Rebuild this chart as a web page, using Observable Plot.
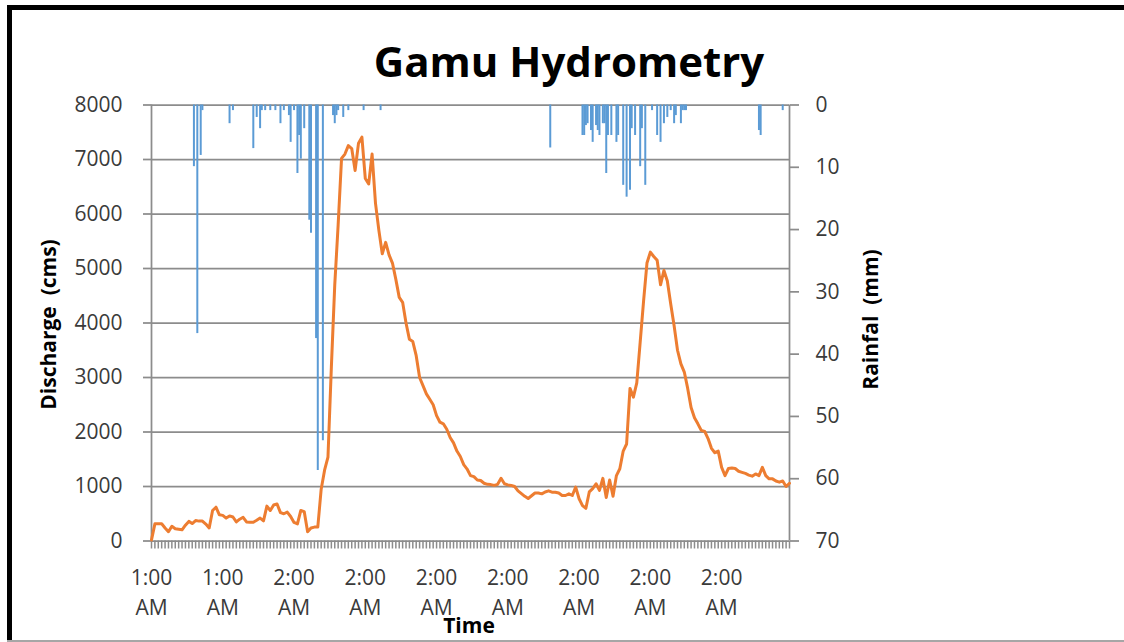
<!DOCTYPE html>
<html>
<head>
<meta charset="utf-8">
<script src="https://cdn.jsdelivr.net/npm/d3@7"></script>
<script src="https://cdn.jsdelivr.net/npm/@observablehq/plot@0.6"></script>
<style>
  body { margin: 0; background: #fff; }
  #wrap { position: relative; width: 1124px; height: 642px; overflow: hidden; font-family: "Open Sans", sans-serif; background: #fff; }
  #wrap svg { position: absolute; left: 0; top: 0; }
  .bar { position: absolute; }
  .frameTop { left: 7px; top: 5px; width: 1117px; height: 5px; background: #000; }
  .frameLeft { left: 7px; top: 5px; width: 5px; height: 637px; background: #000; }
  .frameBottom { left: 7px; top: 640px; width: 1117px; height: 2px; background: #a6a6a6; }
  .txt { position: absolute; white-space: pre; color: #000; font-weight: bold; line-height: 1; }
  .title { left: 0; width: 1138px; top: 40px; text-align: center; font-size: 42px; }
  .ylab { font-size: 21px; text-align: center; transform: rotate(-90deg); transform-origin: 50% 50%; }
  .xlab { font-size: 21px; text-align: center; }
</style>
</head>
<body>
<div id="wrap">
  <div class="bar frameTop"></div>
  <div class="bar frameLeft"></div>
  <div class="bar frameBottom"></div>
  <div class="txt title">Gamu Hydrometry</div>
  <div class="txt ylab" style="left:-52px; top:314px; width:200px;">Discharge  (cms)</div>
  <div class="txt ylab" style="left:770px; top:309px; width:200px;">Rainfal  (mm)</div>
  <div class="txt xlab" style="left:419px; top:615px; width:100px;">Time</div>
</div>
<script>
// ---- data ----
const discharge = [
  20, 315, 315, 315, 240, 170, 270, 225, 215, 205,
  290, 360, 320, 375, 365, 365, 310, 240, 560, 620,
  480, 470, 420, 460, 440, 350, 400, 435, 350, 345,
  345, 380, 420, 370, 640, 560, 660, 680, 520, 500,
  530, 450, 340, 315, 560, 540, 170, 240, 255, 255,
  950, 1300, 1540, 3190, 4700, 5800, 7020, 7100, 7255, 7200,
  6800, 7300, 7410, 6650, 6550, 7100, 6200, 5700, 5270, 5480,
  5250, 5100, 4800, 4470, 4380, 4000, 3700, 3660, 3400, 3000,
  2850, 2700, 2600, 2500, 2300, 2180, 2150, 2050, 1900, 1800,
  1650, 1550, 1400, 1320, 1200, 1180, 1120, 1110, 1060, 1040,
  1035, 1020, 1040, 1150, 1050, 1030, 1020, 1000, 920, 870,
  820, 780, 830, 880, 880, 865, 900, 920, 895, 895,
  880, 835, 835, 865, 835, 990, 775, 650, 600, 900,
  960, 1050, 930, 1150, 800, 1120, 820, 1200, 1325, 1650,
  1780, 2800, 2640, 2900, 3650, 4400, 5100, 5300, 5220, 5150,
  4700, 4965, 4770, 4350, 3950, 3500, 3250, 3100, 2800, 2450,
  2260, 2150, 2030, 2010, 1880, 1700, 1620, 1650, 1350, 1200,
  1330, 1340, 1330, 1280, 1260, 1240, 1210, 1190, 1230, 1200,
  1350, 1200, 1140, 1140, 1100, 1080, 1100, 1000, 1060
];
// rainfall: time step (in discharge steps) and depth in mm
const rainStep = [12.5, 13.5, 14.5, 15, 23, 24, 30, 31, 32, 32.5, 33.5, 35, 36.5, 38, 39,
  40.5, 41, 42, 43, 43.5, 44, 45, 46.5, 47, 48.5, 49, 50.5, 53.5, 54, 54.5, 55, 56.5, 58,
  62.5, 67.5, 117.5, 127, 127.5, 128, 128.5, 129.5, 130, 131, 131.5, 132, 133, 133.5,
  134, 134.5, 135.5, 137, 137.5, 139, 140, 141, 141.5, 142.5, 144, 144.5, 145.5, 147.5,
  149, 150, 151, 152, 153, 154, 154.5, 156, 156.5, 157, 157.5, 179, 179.5, 186];
const rainMm = [9.9, 36.7, 8.1, 0.9, 3.0, 0.9, 7.0, 2.0, 3.8, 0.9, 0.9, 0.9, 0.9, 3.0, 0.9,
  1.7, 6.0, 0.9, 11.0, 4.9, 8.7, 3.8, 18.5, 20.6, 37.5, 58.7, 53.9, 1.7, 3.0, 1.7, 0.9, 2.0, 0.9,
  0.9, 0.9, 6.9, 4.9, 4.9, 3.3, 3.0, 4.1, 6.0, 3.3, 4.1, 4.9, 3.0, 3.0,
  11.0, 4.9, 4.9, 6.0, 4.9, 12.9, 14.8, 13.7, 3.8, 4.9, 9.9, 3.8, 12.9, 0.9,
  4.9, 6.0, 3.0, 2.0, 0.9, 3.0, 1.7, 3.0, 0.9, 0.9, 0.9, 4.1, 4.9, 0.9];
const timeLabels = ["1:00\nAM", "1:00\nAM", "2:00\nAM", "2:00\nAM", "2:00\nAM", "2:00\nAM", "2:00\nAM", "2:00\nAM", "2:00\nAM"];
const labelSteps = [0, 21, 42, 63, 84, 105, 126, 147, 168];
const dischargeTicks = [0, 1000, 2000, 3000, 4000, 5000, 6000, 7000, 8000];
const rainTicks = [0, 10, 20, 30, 40, 50, 60, 70];

// ---- build ----
const steps = discharge.map((_, i) => i);
const lastStep = steps[steps.length - 1];
const rain = rainStep.map((t, i) => ({t, mm: rainMm[i]}));
const grey = "#8c8c8c";
const common = {
  width: 1124, height: 642,
  marginLeft: 151, marginRight: 335, marginTop: 104.5, marginBottom: 101.5,
  style: {fontFamily: '"Open Sans", sans-serif', fontSize: "21px", color: "#3a3a3a", background: "transparent", overflow: "visible", maxWidth: "none"}
};

const base = Plot.plot({
  ...common,
  x: {domain: [0, lastStep]},
  y: {domain: [0, 8000]},
  marks: [
    Plot.gridY({ticks: dischargeTicks, stroke: grey, strokeOpacity: 1, strokeWidth: 1.75}),
    Plot.ruleX([0], {stroke: grey, strokeWidth: 1.75}),
    Plot.axisY({ticks: dischargeTicks, tickSize: 8, tickPadding: 21, stroke: grey, strokeWidth: 1.75, tickFormat: d => String(d), label: null}),
    Plot.axisX({ticks: steps, tickSize: 8, stroke: grey, strokeWidth: 1.5, tickFormat: () => "", label: null}),
    Plot.axisX({ticks: labelSteps, tickSize: 0, tickPadding: 22, lineHeight: 1.45, tickFormat: d => timeLabels[labelSteps.indexOf(d)], label: null})
  ]
});

const rainPlot = Plot.plot({
  ...common,
  x: {domain: [0, lastStep], axis: null},
  y: {domain: [0, 70], reverse: true},
  marks: [
    Plot.ruleX(rain, {x: "t", y1: 0, y2: "mm", stroke: "#5B9BD5", strokeWidth: 2}),
    Plot.ruleX([lastStep], {stroke: grey, strokeWidth: 1.75}),
    Plot.axisY({anchor: "right", ticks: rainTicks, tickSize: 9, tickPadding: 17, stroke: grey, strokeWidth: 1.75, tickFormat: d => String(d), label: null})
  ]
});

const linePlot = Plot.plot({
  ...common,
  x: {domain: [0, lastStep], axis: null},
  y: {domain: [0, 8000], axis: null},
  marks: [
    Plot.lineY(discharge, {x: (d, i) => i, y: d => d, stroke: "#ED7D31", strokeWidth: 3, strokeLinejoin: "round"})
  ]
});

const wrap = document.getElementById("wrap");
wrap.appendChild(base);
wrap.appendChild(rainPlot);
wrap.appendChild(linePlot);
</script>
</body>
</html>
